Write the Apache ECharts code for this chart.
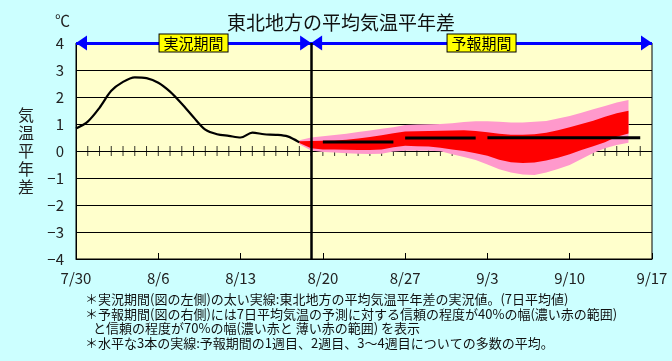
<!DOCTYPE html>
<html>
<head>
<meta charset="utf-8">
<script src="https://cdn.jsdelivr.net/npm/echarts@6/dist/echarts.min.js"></script>
<style>
html,body{margin:0;padding:0;background:#CCFFFF;}
#c{width:672px;height:361px;}
</style>
</head>
<body>
<div id="c"></div>
<script>
// ---- data ----
const xLabels = ['7/30','8/6','8/13','8/20','8/27','9/3','9/10','9/17']; // day 0,7,...,49
const yTicks = [-4,-3,-2,-1,0,1,2,3,4];
const titleText = '東北地方の平均気温平年差';
const unitText = '℃';
const yName = '気温平年差';
const periodObs = '実況期間';
const periodFc = '予報期間';
const boundaryDay = 20;
const lastDay = 49;

// observed 7-day mean anomaly (days from 7/30)
const obsDays   = [0,1,2,3,4,5,6,7,8,9,10,11,12,13,14,15,16,17,18,19];
const obsValues = [0.83,1.09,1.6,2.23,2.56,2.73,2.7,2.53,2.2,1.75,1.25,0.79,0.62,0.56,0.5,0.68,0.62,0.6,0.54,0.32];

// forecast bands
const fcDays  = [19,20,21,22,23,24,25,26,27,28,29,30,31,32,33,34,35,36,37,38,39,40,41,42,43,44,45,46,47];
const pinkHi  = [0.4,0.5,0.55,0.59,0.64,0.7,0.76,0.82,0.88,0.96,0.98,0.99,1.0,1.03,1.07,1.1,1.1,1.08,1.06,1.06,1.08,1.11,1.2,1.3,1.42,1.55,1.67,1.8,1.89];
const redHi   = [0.36,0.37,0.38,0.39,0.42,0.46,0.52,0.58,0.66,0.72,0.73,0.74,0.75,0.76,0.77,0.74,0.69,0.64,0.6,0.6,0.62,0.68,0.77,0.88,1.0,1.12,1.27,1.4,1.49];
const redLo   = [0.3,0.1,0.06,0.06,0.05,0.04,0.04,0.06,0.14,0.19,0.18,0.17,0.12,0.06,0.0,-0.08,-0.18,-0.32,-0.42,-0.44,-0.43,-0.35,-0.25,-0.12,0.04,0.18,0.32,0.53,0.65];
const pinkLo  = [0.25,0.02,-0.04,-0.06,-0.08,-0.1,-0.11,-0.1,-0.02,0.01,0.01,0.01,-0.01,-0.12,-0.22,-0.33,-0.5,-0.68,-0.8,-0.87,-0.89,-0.8,-0.67,-0.52,-0.3,-0.07,0.1,0.22,0.31];

// weekly ensemble mean lines
const weekStart = [21,28,35];
const weekEnd   = [27,34,48];
const weekValue = [0.33,0.48,0.49];

// daily tick marks on zero line
const tickDays = [];
for (let d = 1; d < lastDay; d++) tickDays.push(d);

const notes = [
  '＊実況期間(図の左側)の太い実線:東北地方の平均気温平年差の実況値。(7日平均値)',
  '＊予報期間(図の右側)には7日平均気温の予測に対する信頼の程度が40%の幅(濃い赤の範囲)',
  'と信頼の程度が70%の幅(濃い赤と 薄い赤の範囲) を表示',
  '＊水平な3本の実線:予報期間の1週目、2週目、3～4週目についての多数の平均。'
];

// ---- chart ----
const FONT = '"Noto Sans CJK JP", "Noto Sans", sans-serif';
const chart = echarts.init(document.getElementById('c'), null, {renderer:'canvas'});

const zip = (xs, ys) => xs.map((x,i)=>[x, ys[i]]);

function bandSeries(lo, hi, color, z) {
  return {
    type:'custom', silent:true, animation:false, z:z,
    data: fcDays.map((d,i)=>[d, lo[i], hi[i]]),
    encode:{x:0, y:[1,2]},
    renderItem: function(params, api) {
      if (params.dataIndex !== 0) return null;
      const pts = [];
      for (let i = 0; i < fcDays.length; i++) pts.push(api.coord([fcDays[i], hi[i]]));
      for (let i = fcDays.length - 1; i >= 0; i--) pts.push(api.coord([fcDays[i], lo[i]]));
      return {type:'polygon', shape:{points:pts}, style:{fill:color, stroke:null}};
    }
  };
}

const topVal = yTicks[yTicks.length-1];
// triangle whose tip sits at the symbol centre (extra point extends the box)
const headPath = 'path://M5,10 L10,20 L0,20 Z M5,0 L5,0';

const series = [
  {
    type:'scatter', data: tickDays.map(d=>[d,0]), symbol:'rect', symbolSize:[1,10],
    itemStyle:{color:'#000'}, z:1, silent:true, animation:false
  },
  bandSeries(pinkLo, pinkHi, '#FF99CC', 3),
  bandSeries(redLo, redHi, '#FF0000', 4),
  {
    type:'line', data: zip(obsDays, obsValues), showSymbol:false, symbol:'none', smooth:0.3,
    lineStyle:{color:'#000', width:2.2}, z:5, animation:false,
    markLine:{
      silent:true, animation:false, symbol:[headPath, headPath], symbolSize:[15,22],
      lineStyle:{color:'#0000FF', width:3, type:'solid'},
      label:{show:true, position:'middle', distance:0, verticalAlign:'middle', formatter:p=>p.name,
        backgroundColor:'#FFFF00', borderColor:'#000', borderWidth:1, padding:[2,4,0,4],
        color:'#000', fontFamily:FONT, fontSize:15},
      data:[
        [{name:periodObs, coord:[0, topVal]},{coord:[boundaryDay, topVal]}],
        [{name:periodFc, coord:[boundaryDay, topVal]},{coord:[lastDay, topVal]}]
      ]
    }
  },
  {
    type:'line', data:[], showSymbol:false, z:6, animation:false,
    markLine:{
      silent:true, animation:false, symbol:['none','none'],
      lineStyle:{color:'#000', width:2.5, type:'solid'}, label:{show:false},
      data:[{xAxis: boundaryDay}]
    }
  }
];
weekValue.forEach((v,i)=>{
  series.push({
    type:'line', data:[[weekStart[i], v],[weekEnd[i], v]], showSymbol:false, symbol:'none',
    lineStyle:{color:'#000', width:3}, z:5, animation:false
  });
});

const noteFont = '13px ' + FONT;
chart.setOption({
  backgroundColor:'#CCFFFF',
  animation:false,
  title:{
    text:titleText, left:336, textAlign:'center', top:8,
    textStyle:{fontFamily:FONT, fontSize:19, fontWeight:'normal', color:'#111'}
  },
  grid:{left:76, right:20, top:43, bottom:102, show:true, backgroundColor:'#FFFFCC',
        borderColor:'#000', borderWidth:1, containLabel:false, outerBoundsMode:'none'},
  xAxis:{
    type:'value', min:0, max:lastDay, interval:7,
    axisLine:{show:true, onZero:false, lineStyle:{color:'#000', width:1}},
    axisTick:{show:true, inside:true, length:6, lineStyle:{color:'#000'}},
    splitLine:{show:false},
    axisLabel:{formatter:v=>xLabels[Math.round(v/7)] || '', fontFamily:FONT, fontSize:15, color:'#222', margin:12}
  },
  yAxis:{
    type:'value', min:yTicks[0], max:topVal, interval:1,
    name: yName.split('').join('\n'), nameLocation:'middle', nameGap:42, nameRotate:0,
    nameTextStyle:{fontFamily:FONT, fontSize:16, lineHeight:18, color:'#222'},
    axisLine:{show:true, lineStyle:{color:'#000'}},
    axisTick:{show:false},
    splitLine:{show:true, lineStyle:{color:'#000', width:1}},
    axisLabel:{formatter:v=>String(v).replace('-', '−'), fontFamily:FONT, fontSize:15, color:'#222', margin:12}
  },
  graphic:[
    {type:'text', left:55, top:13, style:{text:unitText, font:'15px ' + FONT, fill:'#222'}},
    {type:'text', left:85, top:293, style:{text:notes[0], font:noteFont, fill:'#111'}},
    {type:'text', left:85, top:308, style:{text:notes[1], font:noteFont, fill:'#111'}},
    {type:'text', left:93, top:322, style:{text:notes[2], font:noteFont, fill:'#111'}},
    {type:'text', left:85, top:337, style:{text:notes[3], font:noteFont, fill:'#111'}}
  ],
  series: series
});
</script>
</body>
</html>
